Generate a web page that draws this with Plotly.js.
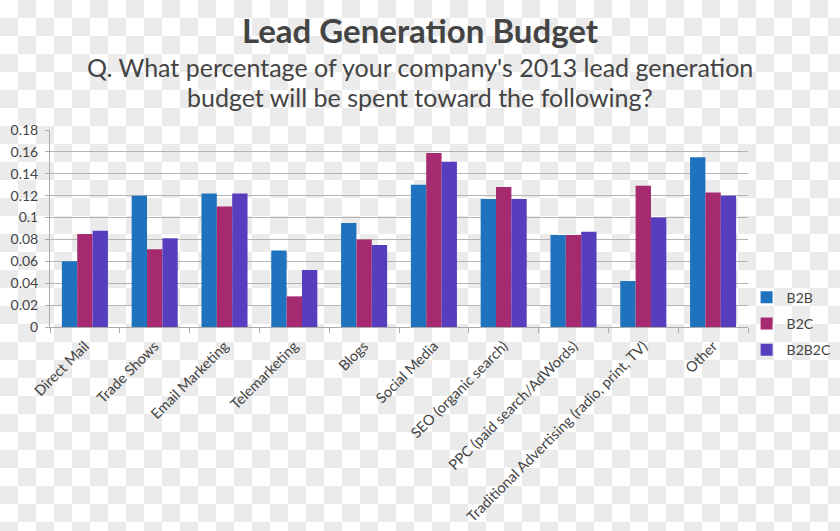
<!DOCTYPE html>
<html>
<head>
<meta charset="utf-8">
<script src="https://cdn.plot.ly/plotly-3.0.1.min.js"></script>
<style>
  html, body { margin: 0; padding: 0; }
  body {
    width: 840px; height: 531px; overflow: hidden;
    background-color: #ffffff;
    background-image: conic-gradient(#ebebeb 0 25%, #ffffff 0 50%, #ebebeb 0 75%, #ffffff 0);
    background-size: 36px 36px;
    background-position: 0 0;
  }
  #chart { width: 840px; height: 531px; }
</style>
</head>
<body>
<div id="chart"></div>
<script>
const categories = [
  "Direct Mail", "Trade Shows", "Email Marketing", "Telemarketing", "Blogs",
  "Social Media", "SEO (organic search)", "PPC (paid search/AdWords)",
  "Traditional Advertising (radio, print, TV)", "Other"
];
const b2b   = [0.060, 0.120, 0.122, 0.070, 0.095, 0.130, 0.117, 0.084, 0.042, 0.155];
const b2c   = [0.085, 0.071, 0.110, 0.028, 0.080, 0.159, 0.128, 0.084, 0.129, 0.123];
const b2b2c = [0.088, 0.081, 0.122, 0.052, 0.075, 0.151, 0.117, 0.087, 0.100, 0.120];
const seriesNames = ["B2B", "B2C", "B2B2C"];
const yTickVals = [0, 0.02, 0.04, 0.06, 0.08, 0.1, 0.12, 0.14, 0.16, 0.18];
const yTickText = ["0", "0.02", "0.04", "0.06", "0.08", "0.1", "0.12", "0.14", "0.16", "0.18"];
const titleText = "Lead Generation Budget";
const subtitleLines = [
  "Q. What percentage of your company's 2013 lead generation",
  "budget will be spent toward the following?"
];

const colors = ["#1F72BE", "#A52A6F", "#573EBE"];
const font = "Lato, 'Open Sans', sans-serif";
const seriesData = [b2b, b2c, b2b2c];

const traces = seriesData.map((vals, i) => ({
  type: "bar",
  name: seriesNames[i],
  x: categories,
  y: vals,
  marker: { color: colors[i] },
  legendgroup: "g" + i,
  hoverinfo: "x+y+name"
}));

const layout = {
  width: 840, height: 531,
  paper_bgcolor: "rgba(0,0,0,0)",
  plot_bgcolor: "rgba(0,0,0,0)",
  margin: { l: 50, r: 92, t: 130, b: 204, autoexpand: false },
  barmode: "group",
  bargap: 0.34,
  bargroupgap: 0,
  font: { family: font, color: "#444444", size: 12 },
  title: {
    text: "<b>" + titleText + "</b>",
    x: 0.5, xref: "container", xanchor: "center",
    y: 1, yref: "container", yanchor: "top", pad: { t: 20 },
    font: { family: font, size: 33, color: "#444444" }
  },
  annotations: subtitleLines.map((t, i) => ({
    text: t, xref: "paper", yref: "paper", x: 0.5301, y: 1 + (1 - i) * 0.152 + 0.166,
    xanchor: "center", yanchor: "middle", showarrow: false,
    font: { family: font, size: 25, color: "#444444" }
  })),
  xaxis: {
    type: "category",
    tickangle: -45,
    ticks: "outside", tickson: "boundaries", ticklen: 5, tickcolor: "#aaaaaa",
    ticklabelstandoff: 4,
    showline: true, linecolor: "#aaaaaa", linewidth: 1,
    showgrid: false,
    tickfont: { family: font, size: 14.5, color: "#444444" }
  },
  yaxis: {
    range: [0, 0.18],
    tickvals: yTickVals, ticktext: yTickText,
    ticks: "outside", ticklen: 4, tickcolor: "#aaaaaa",
    ticklabelstandoff: 4,
    showline: true, linecolor: "#aaaaaa", linewidth: 1,
    showgrid: true, gridcolor: "#b4b4b4", gridwidth: 1,
    zeroline: false,
    tickfont: { family: font, size: 14, color: "#444444" }
  },
  legend: {
    x: 0.998, xanchor: "left", y: 0.23, yanchor: "top",
    bgcolor: "rgba(0,0,0,0)",
    traceorder: "grouped", tracegroupgap: 5,
    font: { family: font, size: 14, color: "#444444" },
    itemwidth: 30
  },
  showlegend: true
};

Plotly.newPlot("chart", traces, layout, { displayModeBar: false, staticPlot: true });
</script>
</body>
</html>
